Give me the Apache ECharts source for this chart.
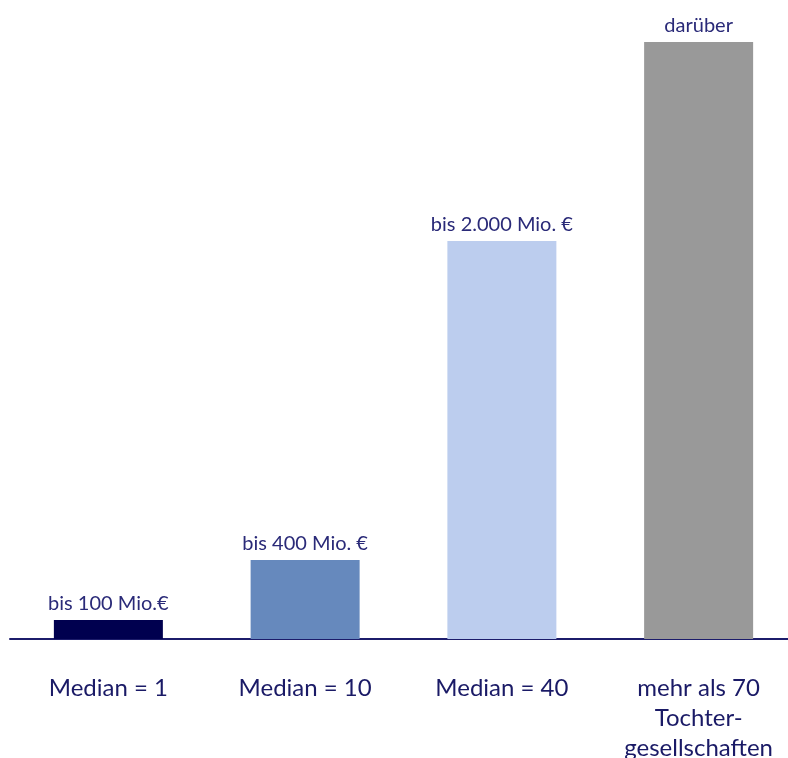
<!DOCTYPE html>
<html><head><meta charset="utf-8">
<script src="https://cdn.jsdelivr.net/npm/echarts@6/dist/echarts.min.js"></script>
<style>html,body{margin:0;padding:0;background:#fff}#c{width:788px;height:758px}</style>
</head><body><div id="c"></div>
<script>
const categories = ['Median = 1', 'Median = 10', 'Median = 40', 'mehr als 70\nTochter-\ngesellschaften'];
const values = [19, 79, 398, 597];
const barLabels = ['bis 100 Mio.€', 'bis 400 Mio. €', 'bis 2.000 Mio. €', 'darüber'];
const barColors = ['#00004f', '#6689bd', '#bccdee', '#999999'];

const chart = echarts.init(document.getElementById('c'));
chart.setOption({
  animation: false,
  grid: { left: 10, right: -9, top: 39, bottom: 119, containLabel: false, outerBoundsMode: 'none' },
  xAxis: {
    type: 'category', data: categories,
    axisLine: { lineStyle: { color: '#1c1c6b', width: 2 } },
    axisTick: { show: false },
    axisLabel: { color: '#1a1a66', fontSize: 24, fontFamily: 'Lato', margin: 34, lineHeight: 30, interval: 0 }
  },
  yAxis: { type: 'value', min: 0, max: 600, show: false, splitLine: { show: false } },
  series: [{
    type: 'bar', barWidth: 109,
    data: values.map((v, i) => ({ value: v, itemStyle: { color: barColors[i] } })),
    label: {
      show: true, position: 'top', distance: 6,
      color: '#2a2a78', fontSize: 20, fontFamily: 'Lato',
      formatter: p => barLabels[p.dataIndex]
    }
  }]
});
</script></body></html>
